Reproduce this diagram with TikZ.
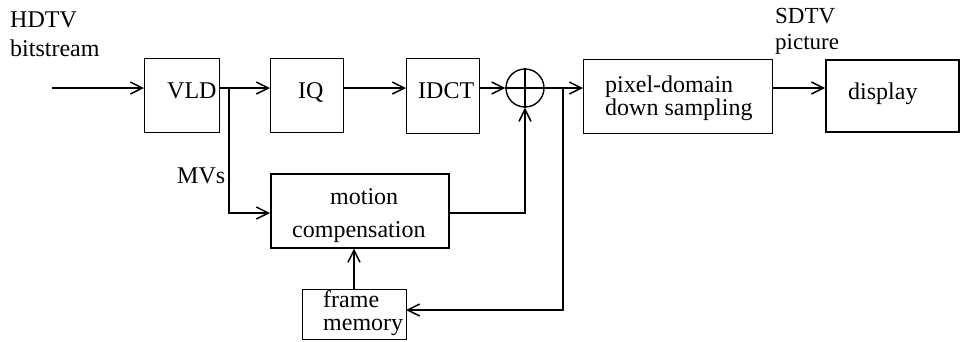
\documentclass[tikz,border=0pt]{standalone}
\usepackage{fontspec}
\setmainfont{Liberation Serif}
\usetikzlibrary{arrows.meta}
\begin{document}
\begin{tikzpicture}[x=1pt,y=-1pt,
  box/.style={draw,line width=1.2pt,inner sep=0pt,anchor=north west},
  lbl/.style={inner sep=0pt,anchor=base west,font=\fontsize{24}{24}\selectfont},
  small/.style={lbl,font=\fontsize{23}{23}\selectfont},
  conn/.style={line width=1.4pt},
  arr/.style={conn,-{Straight Barb[length=12pt,width=12pt,line width=1.5pt]}}]
\useasboundingbox (0,0) rectangle (961,341);
% boxes
\node[box,minimum width=75pt,minimum height=74pt] (vld) at (144,58) {};
\node[box,minimum width=73pt,minimum height=74pt] (iq) at (270,58) {};
\node[box,minimum width=73pt,minimum height=75pt] (idct) at (406,58) {};
\node[box,minimum width=189pt,minimum height=74pt] (pix) at (583,59) {};
\node[box,line width=2.2pt,minimum width=133pt,minimum height=72pt] (disp) at (825,59) {};
\node[box,line width=1.6pt,minimum width=178pt,minimum height=74pt] (mc) at (270,173) {};
\node[box,minimum width=104pt,minimum height=50pt] (fm) at (302,289) {};
\node[circle,draw,line width=1.4pt,minimum size=38pt,inner sep=0pt] (sum) at (525,88) {};
\draw[conn] (sum.north) -- (sum.south) (sum.west) -- (sum.east);
% labels
\node[lbl] (hdtv) at (10,27) {HDTV};
\node[lbl] (bits) at (10,56) {bitstream};
\node[small] (sdtv) at (775,23) {SDTV};
\node[small] (pict) at (775,49) {picture};
\node[lbl] (mvs) at (177,183) {MVs};
\node[lbl] (vldt) at (167,98) {VLD};
\node[lbl] (iqt) at (298,98) {IQ};
\node[lbl] (idctt) at (418,98) {IDCT};
\node[lbl] (pixa) at (605,92) {pixel-domain};
\node[lbl] (pixb) at (605,115) {down sampling};
\node[lbl] (dispt) at (848,99) {display};
\node[lbl] (mca) at (330,204) {motion};
\node[lbl] (mcb) at (292,237) {compensation};
\node[lbl] (fma) at (323,307) {frame};
\node[lbl] (fmb) at (323,330) {memory};
% connectors
\coordinate (in) at (52,88);
\coordinate (j1) at (229,88);
\coordinate (j2) at (563,88);
\coordinate (mcy) at (270,213);
\coordinate (fby) at (406,310);
\coordinate (fmx) at (354,289);
\draw[arr] (in) -- (in -| vld.west);
\draw[arr] (vld.east |- in) -- (in -| iq.west);
\draw[arr] (iq.east |- in) -- (in -| idct.west);
\draw[arr] (idct.east |- in) -- (sum.west);
\draw[arr] (sum.east) -- (in -| pix.west);
\draw[arr] (pix.east |- in) -- (in -| disp.west);
\draw[arr] (j1) |- (mcy);
\draw[arr] (mc.east |- mcy) -| (sum.south);
\draw[arr] (j2) |- (fby);
\draw[arr] (fmx) -- (fmx |- mc.south);
\end{tikzpicture}
\end{document}
